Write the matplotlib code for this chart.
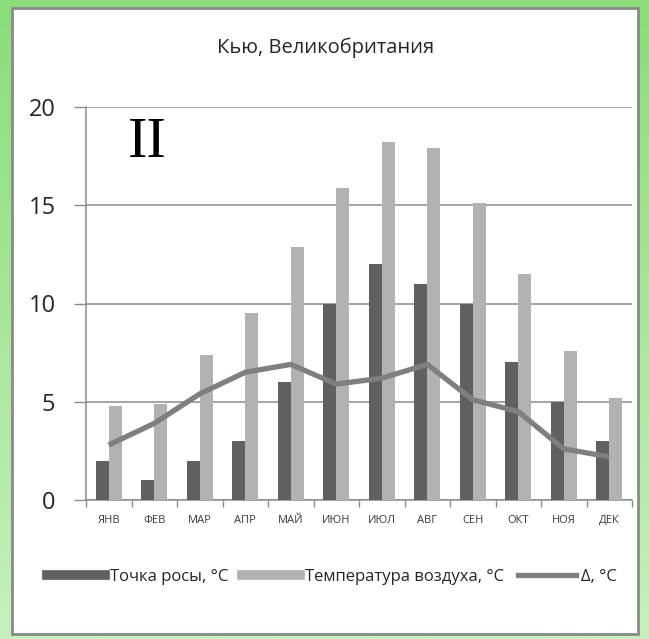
import matplotlib.pyplot as plt
import numpy as np
from matplotlib.lines import Line2D
from matplotlib.patches import Rectangle

months = ["ЯНВ", "ФЕВ", "МАР", "АПР", "МАЙ", "ИЮН",
          "ИЮЛ", "АВГ", "СЕН", "ОКТ", "НОЯ", "ДЕК"]
dew_point = [2, 1, 2, 3, 6, 10, 12, 11, 10, 7, 5, 3]
air_temp = [4.8, 4.9, 7.4, 9.5, 12.9, 15.9, 18.2, 17.9, 15.1, 11.5, 7.6, 5.2]
delta = [2.8, 3.9, 5.4, 6.5, 6.9, 5.9, 6.2, 6.9, 5.1, 4.5, 2.6, 2.2]

DARK = "#606060"
LIGHT = "#b2b2b2"
LINE = "#7f7f7f"
GRID = "#8c8c8c"
FONT = ["Open Sans", "DejaVu Sans"]

W, H = 649, 639
fig = plt.figure(figsize=(W / 100, H / 100), dpi=100)

# green gradient background
bg = fig.add_axes([0, 0, 1, 1], zorder=-10)
grad = np.linspace(0, 1, 256).reshape(-1, 1)
top = np.array([0x8a, 0xdd, 0x78]) / 255
bot = np.array([0xc6, 0xf0, 0xbe]) / 255
img = top + (bot - top) * grad[..., None]
bg.imshow(img, aspect="auto", extent=[0, 1, 0, 1])
bg.set_xlim(0, 1)
bg.set_ylim(0, 1)
bg.axis("off")

# white chart panel
panel = Rectangle((12 / W, 1 - 634 / H), (638 - 12) / W, (634 - 8) / H,
                  transform=fig.transFigure, facecolor="white",
                  edgecolor="#8a8a8a", linewidth=2, zorder=-5)
fig.patches.append(panel)

ax = fig.add_axes([86 / W, 1 - 500 / H, (632 - 86) / W, (500 - 107) / H])
ax.set_facecolor("none")

x = np.arange(len(months))
bw = 0.285
ax.bar(x - bw / 2, dew_point, bw, color=DARK, zorder=3)
ax.bar(x + bw / 2, air_temp, bw, color=LIGHT, zorder=3)
ax.plot(x, delta, color=LINE, linewidth=3.8, zorder=4, solid_capstyle="butt")

ax.set_xlim(-0.5, len(months) - 0.5)
ax.set_ylim(0, 20)
ax.set_yticks([0, 5, 10, 15, 20])
ax.yaxis.grid(True, color=GRID, linewidth=1.1)
ax.set_axisbelow(True)

ax.set_xticks(np.arange(-0.5, len(months), 1))
ax.set_xticklabels([])
ax.set_xticks(x, minor=True)
ax.set_xticklabels(months, minor=True, fontsize=8, color="#3a3a3a",
                   family=FONT)
ax.tick_params(axis="x", which="major", length=5, color=GRID, width=1)
ax.tick_params(axis="x", which="minor", length=0, pad=11)
ax.tick_params(axis="y", length=9, color=GRID, width=1, pad=13,
               labelsize=17, labelcolor="#262626")
for lab in ax.get_yticklabels():
    lab.set_family(FONT)

for side in ["top", "right"]:
    ax.spines[side].set_visible(False)
for side in ["left", "bottom"]:
    ax.spines[side].set_color(GRID)
    ax.spines[side].set_linewidth(1.1)

fig.text(326 / W, 1 - 48 / H, "Кью, Великобритания", ha="center",
         va="center", fontsize=14.5, color="#262626", family=FONT)

ax.text(147 / W, 1 - 143 / H, "II", transform=fig.transFigure,
        ha="center", va="center", fontsize=42, family="Liberation Serif",
        color="black")

handles = [
    Line2D([], [], color=DARK, linewidth=7),
    Line2D([], [], color=LIGHT, linewidth=7),
    Line2D([], [], color=LINE, linewidth=3.8),
]
labels = ["Точка росы, °С", "Температура воздуха, °С", "Δ, °С"]
fig.legend(handles, labels, loc="center", bbox_to_anchor=(332 / W, 1 - 577 / H),
           ncol=3, frameon=False, handlelength=3.5, handletextpad=0.3,
           columnspacing=0.8, borderpad=0,
           prop={"family": FONT, "size": 12}, labelcolor="#262626")

fig.savefig("out.png", dpi=100)
